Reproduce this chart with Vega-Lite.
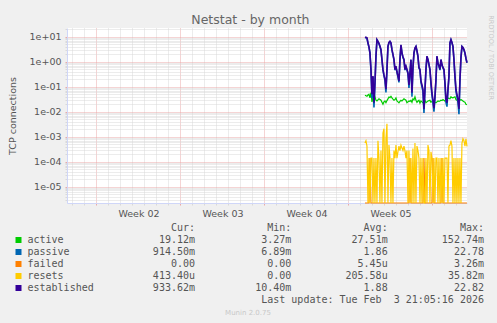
{
  "$schema": "https://vega.github.io/schema/vega-lite/v6.json",
  "background": "#F0F0F0",
  "padding": {"left": 7, "top": 14, "right": 7, "bottom": 8},
  "title": {"text": "Netstat - by month", "anchor": "middle", "frame": "bounds", "font": "DejaVu Sans", "fontSize": 12.5, "fontWeight": "normal", "color": "#666666", "offset": -11.6},
  "spacing": 3.5,
  "config": {"view": {"stroke": null}},
  "datasets": {
    "d": [
      {"t":"2026-01-26T09:00Z","a":0.046,"p":9.5,"f":0,"r":0.00056,"e":9.8},
      {"t":"2026-01-26T11:00Z","a":0.044,"p":9.3,"f":0,"r":0.00069,"e":9.6},
      {"t":"2026-01-26T13:00Z","a":0.042,"p":8.9,"f":0,"r":0.00042,"e":9.2},
      {"t":"2026-01-26T15:00Z","a":0.047,"p":5.6,"f":0,"r":0,"e":5.8},
      {"t":"2026-01-26T17:00Z","a":0.050,"p":3.9,"f":0,"r":0.000139,"e":4.0},
      {"t":"2026-01-26T19:00Z","a":0.036,"p":2.2,"f":0.000139,"r":0,"e":2.3},
      {"t":"2026-01-26T21:00Z","a":0.058,"p":0.47,"f":0,"r":0.000139,"e":0.5},
      {"t":"2026-01-26T23:00Z","a":0.025,"p":0.035,"f":0,"r":0.000139,"e":0.05},
      {"t":"2026-01-27T01:00Z","a":0.036,"p":0.25,"f":0,"r":0,"e":0.27},
      {"t":"2026-01-27T03:00Z","a":0.032,"p":0.015,"f":0,"r":0.000139,"e":0.023},
      {"t":"2026-01-27T05:00Z","a":0.040,"p":0.13,"f":0,"r":0,"e":0.15},
      {"t":"2026-01-27T07:00Z","a":0.029,"p":1.6,"f":0,"r":0.000139,"e":1.7},
      {"t":"2026-01-27T09:00Z","a":0.027,"p":7.6,"f":0,"r":0,"e":7.8},
      {"t":"2026-01-27T11:00Z","a":0.030,"p":6.5,"f":0,"r":0.00069,"e":6.7},
      {"t":"2026-01-27T13:00Z","a":0.033,"p":5.3,"f":0,"r":0.000139,"e":5.5},
      {"t":"2026-01-27T15:00Z","a":0.031,"p":4.1,"f":0,"r":0,"e":4.2},
      {"t":"2026-01-27T17:00Z","a":0.029,"p":3.0,"f":0,"r":0.000278,"e":3.1},
      {"t":"2026-01-27T19:00Z","a":0.024,"p":1.2,"f":0,"r":0,"e":1.25},
      {"t":"2026-01-27T21:00Z","a":0.020,"p":0.47,"f":0,"r":0.0014,"e":0.5},
      {"t":"2026-01-27T23:00Z","a":0.025,"p":0.28,"f":0,"r":0.0021,"e":0.3},
      {"t":"2026-01-28T01:00Z","a":0.027,"p":0.18,"f":0,"r":0,"e":0.2},
      {"t":"2026-01-28T03:00Z","a":0.023,"p":0.06,"f":0,"r":0.00083,"e":0.08},
      {"t":"2026-01-28T05:00Z","a":0.028,"p":0.46,"f":0,"r":0.0033,"e":0.5},
      {"t":"2026-01-28T07:00Z","a":0.033,"p":4.1,"f":0,"r":0,"e":4.2},
      {"t":"2026-01-28T09:00Z","a":0.039,"p":5.8,"f":0,"r":0.00046,"e":6.0},
      {"t":"2026-01-28T11:00Z","a":0.037,"p":6.5,"f":0,"r":0.000139,"e":6.7},
      {"t":"2026-01-28T13:00Z","a":0.042,"p":5.6,"f":0,"r":0,"e":5.8},
      {"t":"2026-01-28T15:00Z","a":0.036,"p":3.0,"f":0,"r":0.000139,"e":3.1},
      {"t":"2026-01-28T17:00Z","a":0.032,"p":1.9,"f":0,"r":0,"e":2.0},
      {"t":"2026-01-28T19:00Z","a":0.029,"p":1.2,"f":0,"r":0.000278,"e":1.25},
      {"t":"2026-01-28T21:00Z","a":0.031,"p":0.47,"f":0,"r":0.000139,"e":0.5},
      {"t":"2026-01-28T23:00Z","a":0.036,"p":0.64,"f":0,"r":0.00046,"e":0.67},
      {"t":"2026-01-29T01:00Z","a":0.027,"p":0.38,"f":0,"r":0.000139,"e":0.4},
      {"t":"2026-01-29T03:00Z","a":0.025,"p":0.25,"f":0,"r":0.00025,"e":0.27},
      {"t":"2026-01-29T05:00Z","a":0.023,"p":0.15,"f":0,"r":0.00042,"e":0.17},
      {"t":"2026-01-29T07:00Z","a":0.026,"p":1.2,"f":0,"r":0.000278,"e":1.25},
      {"t":"2026-01-29T09:00Z","a":0.029,"p":4.6,"f":0,"r":0.00046,"e":4.8},
      {"t":"2026-01-29T11:00Z","a":0.027,"p":2.2,"f":0,"r":0.00035,"e":2.3},
      {"t":"2026-01-29T13:00Z","a":0.030,"p":1.5,"f":0,"r":0.000278,"e":1.6},
      {"t":"2026-01-29T15:00Z","a":0.033,"p":1.2,"f":0,"r":0.00042,"e":1.25},
      {"t":"2026-01-29T17:00Z","a":0.031,"p":0.47,"f":0,"r":0.000278,"e":0.5},
      {"t":"2026-01-29T19:00Z","a":0.029,"p":0.64,"f":0,"r":0.000139,"e":0.67},
      {"t":"2026-01-29T21:00Z","a":0.023,"p":0.47,"f":0,"r":0.000278,"e":0.5},
      {"t":"2026-01-29T23:00Z","a":0.025,"p":0.34,"f":0,"r":0,"e":0.36},
      {"t":"2026-01-30T01:00Z","a":0.027,"p":0.09,"f":0,"r":0.000278,"e":0.12},
      {"t":"2026-01-30T03:00Z","a":0.026,"p":0.34,"f":0.000139,"r":0,"e":0.36},
      {"t":"2026-01-30T05:00Z","a":0.029,"p":1.2,"f":0,"r":0.000139,"e":1.25},
      {"t":"2026-01-30T07:00Z","a":0.024,"p":0.04,"f":0,"r":0,"e":0.058},
      {"t":"2026-01-30T09:00Z","a":0.033,"p":0.57,"f":0,"r":0.00034,"e":0.6},
      {"t":"2026-01-30T11:00Z","a":0.030,"p":2.2,"f":0,"r":0,"e":2.3},
      {"t":"2026-01-30T13:00Z","a":0.040,"p":3.5,"f":0,"r":0.00056,"e":3.6},
      {"t":"2026-01-30T15:00Z","a":0.029,"p":4.1,"f":0,"r":0,"e":4.2},
      {"t":"2026-01-30T17:00Z","a":0.024,"p":2.7,"f":0,"r":0.00042,"e":2.8},
      {"t":"2026-01-30T19:00Z","a":0.027,"p":1.6,"f":0,"r":0.000278,"e":1.7},
      {"t":"2026-01-30T21:00Z","a":0.029,"p":0.57,"f":0,"r":0.000139,"e":0.6},
      {"t":"2026-01-30T23:00Z","a":0.022,"p":0.47,"f":0,"r":0,"e":0.5},
      {"t":"2026-01-31T01:00Z","a":0.027,"p":0.15,"f":0,"r":0.000139,"e":0.17},
      {"t":"2026-01-31T03:00Z","a":0.025,"p":0.1,"f":0,"r":0,"e":0.12},
      {"t":"2026-01-31T05:00Z","a":0.023,"p":0.065,"f":0,"r":0.000139,"e":0.08},
      {"t":"2026-01-31T07:00Z","a":0.026,"p":0.009,"f":0.000139,"r":0,"e":0.013},
      {"t":"2026-01-31T09:00Z","a":0.029,"p":0.07,"f":0,"r":0,"e":0.08},
      {"t":"2026-01-31T11:00Z","a":0.023,"p":0.47,"f":0,"r":0.000139,"e":0.5},
      {"t":"2026-01-31T13:00Z","a":0.025,"p":1.6,"f":0,"r":0,"e":1.7},
      {"t":"2026-01-31T15:00Z","a":0.027,"p":1.2,"f":0,"r":0.00046,"e":1.25},
      {"t":"2026-01-31T17:00Z","a":0.028,"p":0.77,"f":0,"r":0.000278,"e":0.8},
      {"t":"2026-01-31T19:00Z","a":0.029,"p":0.47,"f":0,"r":0,"e":0.5},
      {"t":"2026-01-31T21:00Z","a":0.024,"p":0.13,"f":0,"r":0.00025,"e":0.15},
      {"t":"2026-01-31T23:00Z","a":0.026,"p":0.045,"f":0,"r":0.000139,"e":0.058},
      {"t":"2026-02-01T01:00Z","a":0.029,"p":0.022,"f":0.000139,"r":0,"e":0.03},
      {"t":"2026-02-01T03:00Z","a":0.026,"p":0.01,"f":0,"r":0.000139,"e":0.014},
      {"t":"2026-02-01T05:00Z","a":0.024,"p":0.035,"f":0,"r":0,"e":0.042},
      {"t":"2026-02-01T07:00Z","a":0.023,"p":0.18,"f":0,"r":0.000139,"e":0.2},
      {"t":"2026-02-01T09:00Z","a":0.025,"p":1.6,"f":0,"r":0.000139,"e":1.7},
      {"t":"2026-02-01T11:00Z","a":0.027,"p":0.87,"f":0,"r":0,"e":0.9},
      {"t":"2026-02-01T13:00Z","a":0.026,"p":0.67,"f":0,"r":0.000139,"e":0.7},
      {"t":"2026-02-01T15:00Z","a":0.027,"p":0.47,"f":0,"r":0,"e":0.5},
      {"t":"2026-02-01T17:00Z","a":0.029,"p":1.2,"f":0,"r":0.000139,"e":1.25},
      {"t":"2026-02-01T19:00Z","a":0.028,"p":0.75,"f":0.000139,"r":0,"e":0.78},
      {"t":"2026-02-01T21:00Z","a":0.031,"p":0.57,"f":0,"r":0.000139,"e":0.6},
      {"t":"2026-02-01T23:00Z","a":0.029,"p":0.47,"f":0,"r":0,"e":0.5},
      {"t":"2026-02-02T01:00Z","a":0.027,"p":0.13,"f":0,"r":0.000139,"e":0.145},
      {"t":"2026-02-02T03:00Z","a":0.031,"p":0.024,"f":0,"r":0.000139,"e":0.032},
      {"t":"2026-02-02T05:00Z","a":0.033,"p":0.016,"f":0,"r":0.000139,"e":0.023},
      {"t":"2026-02-02T07:00Z","a":0.036,"p":0.07,"f":0,"r":0,"e":0.08},
      {"t":"2026-02-02T09:00Z","a":0.034,"p":0.25,"f":0,"r":0.00042,"e":0.27},
      {"t":"2026-02-02T11:00Z","a":0.033,"p":5.6,"f":0,"r":0.00046,"e":5.8},
      {"t":"2026-02-02T13:00Z","a":0.040,"p":7.6,"f":0,"r":0.00069,"e":7.8},
      {"t":"2026-02-02T15:00Z","a":0.037,"p":5.8,"f":0,"r":0.00042,"e":6.0},
      {"t":"2026-02-02T17:00Z","a":0.036,"p":4.1,"f":0,"r":0,"e":4.2},
      {"t":"2026-02-02T19:00Z","a":0.038,"p":1.2,"f":0,"r":0.000139,"e":1.25},
      {"t":"2026-02-02T21:00Z","a":0.040,"p":0.25,"f":0,"r":0,"e":0.27},
      {"t":"2026-02-02T23:00Z","a":0.031,"p":0.065,"f":0,"r":0.000139,"e":0.08},
      {"t":"2026-02-03T01:00Z","a":0.029,"p":0.04,"f":0,"r":0,"e":0.05},
      {"t":"2026-02-03T03:00Z","a":0.027,"p":0.024,"f":0,"r":0.000139,"e":0.031},
      {"t":"2026-02-03T05:00Z","a":0.028,"p":0.008,"f":0,"r":0,"e":0.013},
      {"t":"2026-02-03T07:00Z","a":0.029,"p":0.18,"f":0,"r":0.000139,"e":0.2},
      {"t":"2026-02-03T09:00Z","a":0.031,"p":1.45,"f":0,"r":0,"e":1.5},
      {"t":"2026-02-03T11:00Z","a":0.029,"p":4.1,"f":0,"r":0.00056,"e":4.2},
      {"t":"2026-02-03T13:00Z","a":0.027,"p":3.7,"f":0,"r":0.00083,"e":3.8},
      {"t":"2026-02-03T15:00Z","a":0.025,"p":3.0,"f":0,"r":0.00069,"e":3.1},
      {"t":"2026-02-03T17:00Z","a":0.024,"p":2.2,"f":0,"r":0.00042,"e":2.3},
      {"t":"2026-02-03T19:00Z","a":0.020,"p":1.35,"f":0,"r":0.00083,"e":1.4},
      {"t":"2026-02-03T21:00Z","a":0.019,"p":0.91,"f":0,"r":0.00041,"e":0.93}
    ],
    "legend": [
      {"row":"hdr","col":"Cur","text":"Cur:\u00a0\u00a0"},
      {"row":"hdr","col":"Min","text":"Min:\u00a0\u00a0"},
      {"row":"hdr","col":"Avg","text":"Avg:\u00a0\u00a0"},
      {"row":"hdr","col":"Max","text":"Max:\u00a0\u00a0"},
      {"row":"active","col":"Cur","text":"19.12m"},
      {"row":"active","col":"Min","text":"3.27m"},
      {"row":"active","col":"Avg","text":"27.51m"},
      {"row":"active","col":"Max","text":"152.74m"},
      {"row":"passive","col":"Cur","text":"914.50m"},
      {"row":"passive","col":"Min","text":"6.89m"},
      {"row":"passive","col":"Avg","text":"1.86\u00a0"},
      {"row":"passive","col":"Max","text":"22.78\u00a0"},
      {"row":"failed","col":"Cur","text":"0.00\u00a0"},
      {"row":"failed","col":"Min","text":"0.00\u00a0"},
      {"row":"failed","col":"Avg","text":"5.45u"},
      {"row":"failed","col":"Max","text":"3.26m"},
      {"row":"resets","col":"Cur","text":"413.40u"},
      {"row":"resets","col":"Min","text":"0.00\u00a0"},
      {"row":"resets","col":"Avg","text":"205.58u"},
      {"row":"resets","col":"Max","text":"35.82m"},
      {"row":"established","col":"Cur","text":"933.62m"},
      {"row":"established","col":"Min","text":"10.40m"},
      {"row":"established","col":"Avg","text":"1.88\u00a0"},
      {"row":"established","col":"Max","text":"22.82\u00a0"},
      {"row":"upd","col":"Max","text":"Last update: Tue Feb \u00a03 21:05:16 2026"}
    ]
  },
  "vconcat": [
    {
      "width": 400,
      "height": 175,
      "view": {"fill": "#FFFFFF", "stroke": null},
      "title": {"text": "RRDTOOL / TOBI OETIKER", "orient": "right", "anchor": "start", "frame": "group", "angle": 90, "font": "DejaVu Sans", "fontSize": 6.6, "fontWeight": "normal", "color": "#C8C8C8", "offset": 17, "dx": -12.75},
      "data": {"name": "d"},
      "transform": [{"fold": ["a", "p", "f", "r", "e"], "as": ["s", "v"]}],
      "encoding": {
        "x": {
          "field": "t", "type": "temporal",
          "scale": {"type": "utc", "domain": [1767272700000, 1770152700000], "nice": false},
          "axis": {
            "title": null,
            "values": [1767312000000,1767398400000,1767484800000,1767571200000,1767657600000,1767744000000,1767830400000,1767916800000,1768003200000,1768089600000,1768176000000,1768262400000,1768348800000,1768435200000,1768521600000,1768608000000,1768694400000,1768780800000,1768867200000,1768953600000,1769040000000,1769126400000,1769212800000,1769299200000,1769385600000,1769472000000,1769558400000,1769644800000,1769731200000,1769817600000,1769904000000,1769990400000,1770076800000,1767787200000,1768392000000,1768996800000,1769601600000],
            "grid": true,
            "gridDash": [1, 1],
            "gridColor": {"condition": {"test": "utcday(datum.value) == 0 && utchours(datum.value) == 0", "value": "#EAA9A9"}, "value": "#D9D9D9"},
            "gridOpacity": {"condition": {"test": "utchours(datum.value) == 12", "value": 0}, "value": 1},
            "ticks": true,
            "tickSize": 2,
            "tickColor": {"condition": {"test": "utcday(datum.value) == 0 && utchours(datum.value) == 0", "value": "#EAA9A9"}, "value": "#D9D9D9"},
            "tickOpacity": {"condition": {"test": "utchours(datum.value) == 12", "value": 0}, "value": 1},
            "domain": true,
            "domainColor": "#CFD6F8",
            "labelExpr": "utchours(datum.value) == 12 ? utcFormat(datum.value, 'Week %V') : ''",
            "labelFont": "DejaVu Sans",
            "labelFontSize": 9.5,
            "labelColor": "#555555",
            "labelPadding": 3,
            "labelOverlap": false,
            "labelFlush": false,
            "labelBound": false
          }
        },
        "y": {
          "field": "v", "type": "quantitative",
          "scale": {"type": "log", "domain": [2.2e-6, 22.82], "clamp": true, "nice": false},
          "axis": {
            "title": "TCP connections",
            "titleFont": "DejaVu Sans",
            "titleFontSize": 9.5,
            "titleFontWeight": "normal",
            "titleColor": "#555555",
            "titlePadding": 12,
            "values": [3e-6,4e-6,5e-6,6e-6,7e-6,8e-6,9e-6,1e-5,2e-5,3e-5,4e-5,5e-5,6e-5,7e-5,8e-5,9e-5,1e-4,2e-4,3e-4,4e-4,5e-4,6e-4,7e-4,8e-4,9e-4,1e-3,2e-3,3e-3,4e-3,5e-3,6e-3,7e-3,8e-3,9e-3,0.01,0.02,0.03,0.04,0.05,0.06,0.07,0.08,0.09,0.1,0.2,0.3,0.4,0.5,0.6,0.7,0.8,0.9,1,2,3,4,5,6,7,8,9,10,20],
            "grid": true,
            "gridDash": [1, 1],
            "gridColor": {"condition": {"test": "abs(log(datum.value)/LN10 - round(log(datum.value)/LN10)) < 0.001", "value": "#EAA9A9"}, "value": "#D9D9D9"},
            "ticks": true,
            "tickSize": 2,
            "tickColor": {"condition": {"test": "abs(log(datum.value)/LN10 - round(log(datum.value)/LN10)) < 0.001", "value": "#EAA9A9"}, "value": "#D9D9D9"},
            "domain": true,
            "domainColor": "#CFD6F8",
            "labelExpr": "abs(log(datum.value)/LN10 - round(log(datum.value)/LN10)) < 0.001 ? ('1e' + (datum.value >= 1 ? '+' : '-') + '0' + abs(round(log(datum.value)/LN10))) : ''",
            "labelFont": "DejaVu Sans",
            "labelFontSize": 9.5,
            "labelColor": "#555555",
            "labelPadding": 4,
            "labelOverlap": false,
            "labelFlush": false
          }
        }
      },
      "layer": [
        {"transform": [{"filter": "datum.s === 'a'"}], "mark": {"type": "line", "color": "#00CC00", "strokeWidth": 1.2}},
        {"transform": [{"filter": "datum.s === 'p'"}], "mark": {"type": "line", "color": "#0066B3", "strokeWidth": 1.6}},
        {"transform": [{"filter": "datum.s === 'f'"}], "mark": {"type": "line", "color": "#FF8000", "strokeWidth": 1.2}},
        {"transform": [{"filter": "datum.s === 'r'"}], "mark": {"type": "line", "color": "#FFCC00", "strokeWidth": 1.2}},
        {"transform": [{"filter": "datum.s === 'e'"}], "mark": {"type": "line", "color": "#330099", "strokeWidth": 1.6}}
      ]
    },
    {
      "width": 417,
      "height": 84,
      "view": {"fill": null, "stroke": null},
      "title": {"text": "Munin 2.0.75", "orient": "bottom", "anchor": "middle", "frame": "bounds", "font": "DejaVu Sans", "fontSize": 7, "fontWeight": "normal", "color": "#C8C8C8", "offset": 3},
      "data": {"name": "legend"},
      "mark": {"type": "text", "align": "right", "baseline": "middle", "font": "DejaVu Sans Mono", "fontSize": 10, "color": "#555555"},
      "encoding": {
        "x": {
          "field": "col", "type": "nominal", "bandPosition": 1,
          "scale": {"type": "band", "domain": ["Cur", "Min", "Avg", "Max"], "paddingInner": 0, "paddingOuter": 0.1645, "align": 1},
          "axis": null
        },
        "y": {
          "field": "row", "type": "nominal",
          "scale": {"type": "band", "domain": ["hdr", "active", "passive", "failed", "resets", "established", "upd"], "paddingInner": 0, "paddingOuter": 0},
          "axis": {
            "values": ["active", "passive", "failed", "resets", "established"],
            "orient": "left",
            "title": null,
            "domain": false,
            "grid": false,
            "offset": 46,
            "ticks": true,
            "tickSize": 6,
            "tickWidth": 6,
            "tickCap": "butt",
            "tickColor": {"condition": [
              {"test": "datum.value === 'active'", "value": "#00CC00"},
              {"test": "datum.value === 'passive'", "value": "#0066B3"},
              {"test": "datum.value === 'failed'", "value": "#FF8000"},
              {"test": "datum.value === 'resets'", "value": "#FFCC00"}
            ], "value": "#330099"},
            "labelAlign": "left",
            "labelBaseline": "middle",
            "labelPadding": -12,
            "labelFont": "DejaVu Sans Mono",
            "labelFontSize": 10,
            "labelColor": "#555555"
          }
        },
        "text": {"field": "text"}
      }
    }
  ]
}
